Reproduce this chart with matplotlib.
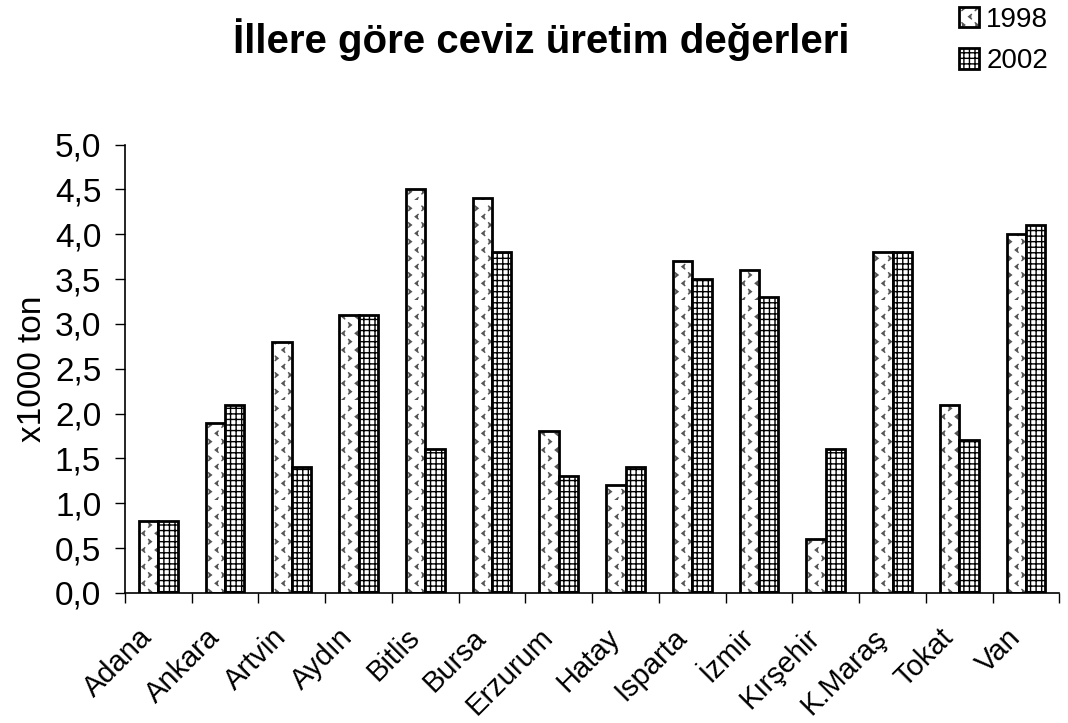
import numpy as np
import matplotlib
matplotlib.use("Agg")
import matplotlib.pyplot as plt
import matplotlib.hatch as mhatch
import matplotlib.transforms as mtransforms
from matplotlib.path import Path
from matplotlib.ticker import FuncFormatter
import warnings

warnings.filterwarnings("ignore")
plt.rcParams['font.family'] = ['Liberation Sans', 'DejaVu Sans']
plt.rcParams['hatch.linewidth'] = 1.0


# chevron hatch ('v'): columns of '<' and '>' like the old Excel pattern
class Chevrons(mhatch.HatchPatternBase):
    def __init__(self, hatch, density):
        n = hatch.count('v')
        self.ncols = 15 * n
        self.nrows = 6 * n
        self.num_vertices = self.ncols * self.nrows * 3

    def set_vertices_and_codes(self, vertices, codes):
        a, b = 0.014, 0.022
        k = 0
        for i in range(self.ncols):
            cx = (i + 0.5) / self.ncols
            d = 1 if i % 2 else -1
            for j in range(self.nrows):
                cy = (j + 0.5 * (i % 2)) / self.nrows
                vertices[k:k + 3] = [(cx - d * a, cy + b), (cx + d * a, cy),
                                     (cx - d * a, cy - b)]
                codes[k:k + 3] = [Path.MOVETO, Path.LINETO, Path.LINETO]
                k += 3


mhatch._hatch_types.append(Chevrons)

iller = ["Adana", "Ankara", "Artvin", "Aydın", "Bitlis", "Bursa", "Erzurum",
         "Hatay", "Isparta", "İzmir", "Kırşehir", "K.Maraş", "Tokat", "Van"]
y1998 = [0.8, 1.9, 2.8, 3.1, 4.5, 4.4, 1.8, 1.2, 3.7, 3.6, 0.6, 3.8, 2.1, 4.0]
y2002 = [0.8, 2.1, 1.4, 3.1, 1.6, 3.8, 1.3, 1.4, 3.5, 3.3, 1.6, 3.8, 1.7, 4.1]

fig = plt.figure(figsize=(10.68, 7.23), dpi=100)
ax = fig.add_axes([0.117, 0.180, 0.875, 0.620])

x = np.arange(len(iller)) + 0.5
w = 0.29
# 1998: grey chevrons under a black outline
b1h = ax.bar(x - w/2, y1998, w, facecolor="white", edgecolor="#555555",
             hatch="v", linewidth=0)
b1 = ax.bar(x - w/2, y1998, w, fill=False, edgecolor="black", linewidth=2)
b2 = ax.bar(x + w/2, y2002, w, facecolor="white", edgecolor="black",
            hatch="+++", linewidth=2)

ax.set_xlim(0, len(iller))
ax.set_ylim(0, 5.0)
ax.set_yticks(np.arange(0, 5.01, 0.5))
ax.yaxis.set_major_formatter(FuncFormatter(lambda v, p: ("%.1f" % v).replace(".", ",")))
ax.tick_params(axis="y", labelsize=24, length=7, width=1, direction="out", pad=10)

ax.set_xticks(np.arange(0, len(iller) + 1))
ax.set_xticklabels([])
ax.tick_params(axis="x", which="major", length=7, width=1, direction="out")
ax.set_xticks(x, minor=True)
ax.set_xticklabels(iller, minor=True, rotation=45, ha="right", va="center",
                   rotation_mode="anchor", fontsize=21)
ax.tick_params(axis="x", which="minor", length=0, pad=29)
shift = mtransforms.ScaledTranslation(-0.10, 0, fig.dpi_scale_trans)
for lab in ax.get_xticklabels(minor=True):
    lab.set_transform(lab.get_transform() + shift)

for s in ["top", "right"]:
    ax.spines[s].set_visible(False)
ax.spines["left"].set_linewidth(1.2)
ax.spines["bottom"].set_linewidth(1.2)

ax.set_ylabel("x1000 ton", fontsize=24, labelpad=5)

fig.text(0.507, 0.945, "İllere göre ceviz üretim değerleri", fontsize=29,
         fontweight="bold", ha="center", va="center")

fig.legend(handles=[(b1h, b1), b2], labels=["1998", "2002"], loc="upper right",
           bbox_to_anchor=(1.005, 1.025), frameon=False, fontsize=20,
           handlelength=0.75, handleheight=0.75, handletextpad=0.25,
           labelspacing=0.55)

fig.savefig("out.png", dpi=100)
